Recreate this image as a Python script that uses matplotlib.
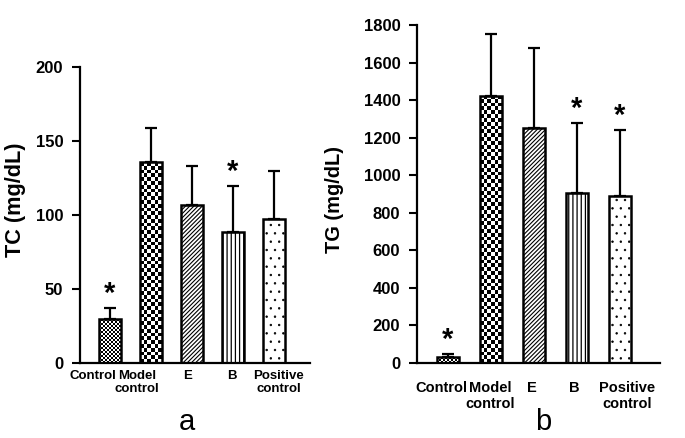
import numpy as np
import matplotlib
matplotlib.use('Agg')
import matplotlib.pyplot as plt
from matplotlib import transforms

# ---------------- data ----------------
categories = ['Control', 'Model\ncontrol', 'E', 'B', 'Positive\ncontrol']
tc_mean = [29.7, 135.8, 106.8, 88.7, 97.3]
tc_err = [7.3, 23.0, 26.2, 30.9, 32.7]
tc_sig = [True, False, False, True, False]
tc_ticks = [0, 50, 100, 150, 200]

tg_mean = [30, 1423, 1250, 907, 889]
tg_err = [20, 327, 426, 373, 352]
tg_sig = [True, False, False, True, True]
tg_ticks = [0, 200, 400, 600, 800, 1000, 1200, 1400, 1600, 1800]

# fill style per category: ('checker', cell_px) or (hatch string, hatch lw)
fills = [('checker', 2.0), ('checker', 3.8), ('////////', 0.8), ('||||', 0.9), ('..', 0.5)]

plt.rcParams['font.family'] = ['Liberation Sans', 'DejaVu Sans']

fig = plt.figure(figsize=(6.85, 4.38), dpi=100)
ax_a = fig.add_axes([80 / 685, 1 - 363 / 438, 230 / 685, 296 / 438])
ax_b = fig.add_axes([417 / 685, 1 - 363 / 438, 243 / 685, 338 / 438])


def draw_panel(ax, means, errs, sig, ticks, xlim, width, ylabel, label_x, label_fs,
               xlabel_shift, xpad, xfs):
    x = np.arange(len(categories))
    ax.set_xlim(*xlim)
    ax.set_ylim(ticks[0], ticks[-1])
    faces = ax.bar(x, means, width=width, color='white', edgecolor='none', zorder=1)
    for i, f in enumerate(fills):
        face = faces[i]
        if f[0] == 'checker':
            cell = f[1]
            bb = face.get_window_extent()
            ncol = max(1, int(round(bb.width / cell)))
            nrow = max(1, int(round(bb.height / cell)))
            pat = (np.indices((nrow, ncol)).sum(axis=0) % 2).astype(float)
            x0 = face.get_x()
            im = ax.imshow(pat, cmap='gray', vmin=0, vmax=1, interpolation='nearest',
                           extent=[x0, x0 + face.get_width(), 0, face.get_height()],
                           origin='lower', aspect='auto', zorder=1.5)
            im.set_clip_path(face)
            hatch, hlw = None, 1.0
        else:
            hatch, hlw = f
        with plt.rc_context({'hatch.linewidth': hlw}):
            ax.bar(x[i], means[i], width=width, fill=False, edgecolor='black',
                   linewidth=1.8, hatch=hatch, zorder=2)
    ax.set_xlim(*xlim)
    ax.set_ylim(ticks[0], ticks[-1])
    ax.errorbar(x, means, yerr=[np.zeros(len(errs)), errs], fmt='none',
                ecolor='black', elinewidth=1.6, capsize=4, capthick=1.6, zorder=3)
    for i, s in enumerate(sig):
        if s:
            ax.annotate('*', (x[i], means[i] + errs[i]), xytext=(0, 0),
                        textcoords='offset points', ha='center', va='bottom',
                        fontsize=21, fontweight='bold')
    ax.set_yticks(ticks)
    ax.set_yticklabels([str(t) for t in ticks], fontsize=12, fontweight='bold')
    ax.set_xticks(x)
    ax.set_xticklabels(categories, fontsize=xfs, fontweight='bold', linespacing=1.15)
    ax.tick_params(axis='x', length=0, pad=xpad)
    ax.tick_params(axis='y', length=6, width=1.5, pad=6)
    for lab, dx in zip(ax.get_xticklabels(), xlabel_shift):
        lab.set_transform(lab.get_transform() +
                          transforms.ScaledTranslation(dx / 100, 0, fig.dpi_scale_trans))
    for sp in ('top', 'right'):
        ax.spines[sp].set_visible(False)
    for sp in ('left', 'bottom'):
        ax.spines[sp].set_linewidth(1.6)
    fig.text(label_x, 0.545, ylabel, rotation=90, ha='center', va='center',
             fontsize=label_fs, fontweight='bold')


draw_panel(ax_a, tc_mean, tc_err, tc_sig, tc_ticks, (-0.73, 4.88), 0.52,
           'TC (mg/dL)', 16 / 685, 15.6, [-17, -14, -4, -1, 5], 5, 9.5)
draw_panel(ax_b, tg_mean, tg_err, tg_sig, tg_ticks, (-0.72, 4.93), 0.51,
           'TG (mg/dL)', 335 / 685, 14.4, [-7, -1, -2, -3, 7], 13, 10.5)

fig.text(187 / 685, 1 - 430 / 438, 'a', ha='center', va='baseline', fontsize=21)
fig.text(543 / 685, 1 - 430 / 438, 'b', ha='center', va='baseline', fontsize=21)

fig.savefig('out.png', dpi=100, facecolor='white')
